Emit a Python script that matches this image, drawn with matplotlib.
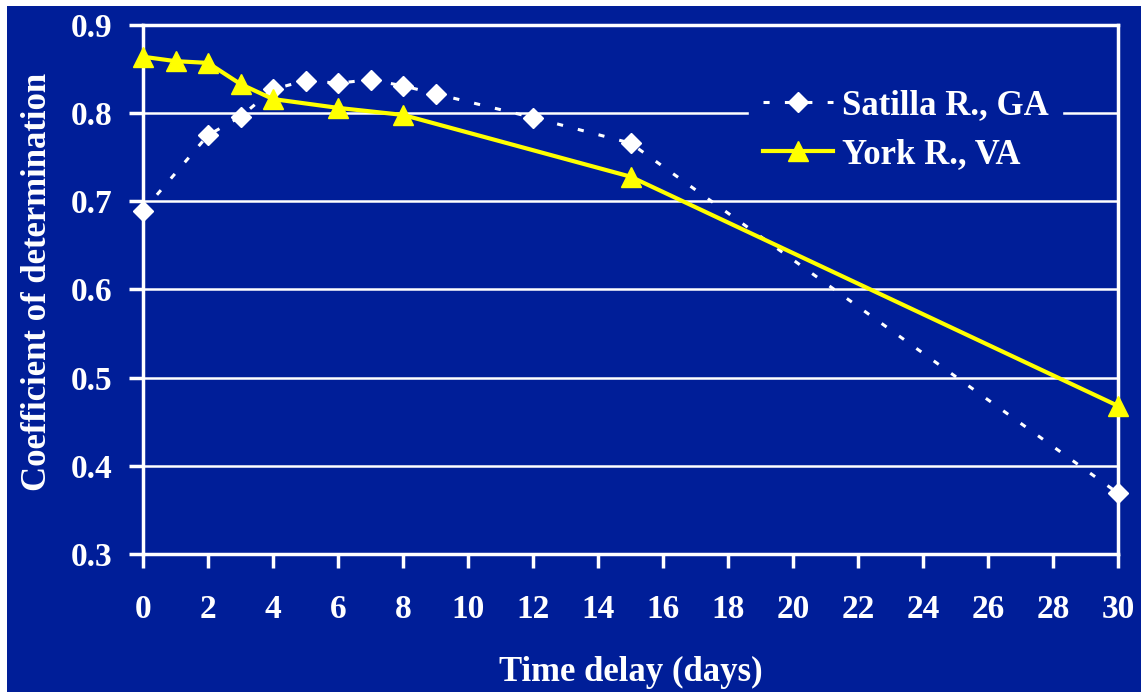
import matplotlib
matplotlib.use("Agg")
import matplotlib.pyplot as plt
from matplotlib.patches import Rectangle

# ---- data ----
satilla_x = [0, 2, 3, 4, 5, 6, 7, 8, 9, 12, 15, 30]
satilla_y = [0.689, 0.775, 0.796, 0.827, 0.837, 0.834, 0.838, 0.831, 0.822, 0.795, 0.766, 0.369]
york_x = [0, 1, 2, 3, 4, 6, 8, 15, 30]
york_y = [0.864, 0.859, 0.857, 0.833, 0.816, 0.806, 0.798, 0.728, 0.468]
x_ticks = list(range(0, 31, 2))
y_ticks = [0.3, 0.4, 0.5, 0.6, 0.7, 0.8, 0.9]
series_names = ["Satilla R., GA", "York R., VA"]
x_label = "Time delay (days)"
y_label = "Coefficient of determination"

BLUE = "#001E98"
YELLOW = "#FFFF00"
WHITE = "white"

plt.rcParams['font.family'] = ['Liberation Serif', 'DejaVu Serif']
plt.rcParams['font.weight'] = 'bold'

W, H = 1141, 692
fig = plt.figure(figsize=(W / 100, H / 100), dpi=100, facecolor="white")
fig.patches.append(Rectangle((7 / W, 0), 1 - 7 / W, 1 - 6 / H, transform=fig.transFigure,
                             facecolor=BLUE, edgecolor="none", zorder=-5))

ax = fig.add_axes([143 / W, 1 - 554 / H, (1118 - 143) / W, (554 - 25) / H])
ax.set_facecolor(BLUE)

ax.plot(satilla_x, satilla_y, color=WHITE, lw=2.2, linestyle=(0, (2, 5)),
        marker="D", ms=10, mfc=WHITE, mec=WHITE, label=series_names[0], zorder=3, clip_on=False)
ax.plot(york_x, york_y, color=YELLOW, lw=3, marker="^", ms=15, mfc=YELLOW, mec=YELLOW,
        label=series_names[1], zorder=4, clip_on=False)

ax.set_xlim(0, 30)
ax.set_ylim(0.3, 0.9)
ax.set_xticks(x_ticks)
ax.set_yticks(y_ticks)
ax.set_yticklabels([f"{v:.1f}" for v in y_ticks])
ax.yaxis.grid(True, color=WHITE, lw=1.8, zorder=1)
ax.set_axisbelow(True)
for s in ax.spines.values():
    s.set_color(WHITE)
    s.set_linewidth(2.5)

ax.tick_params(axis="both", colors=WHITE, length=10, width=2.5, direction="out",
               labelsize=24, labelcolor=WHITE)
ax.tick_params(axis="x", pad=19)
ax.tick_params(axis="y", pad=12)
for lab in ax.get_xticklabels() + ax.get_yticklabels():
    lab.set_fontweight("bold")

ax.set_xlabel(x_label, color=WHITE, fontsize=25, fontweight="bold", labelpad=22)
ax.set_ylabel(y_label, color=WHITE, fontsize=25, fontweight="bold", labelpad=12)
ax.yaxis.label.set_y(0.514)

leg = ax.legend(loc="upper left", bbox_to_anchor=(0.604, 0.938), frameon=True,
                facecolor=BLUE, edgecolor=BLUE, framealpha=1,
                handlelength=2.0, handletextpad=0.26, labelspacing=0.45,
                borderpad=0.4,
                prop={'family': ['Liberation Serif'], 'weight': 'bold', 'size': 25})
for t in leg.get_texts():
    t.set_color(WHITE)
leg.set_zorder(5)

fig.savefig("out.png", dpi=100, facecolor="white")
